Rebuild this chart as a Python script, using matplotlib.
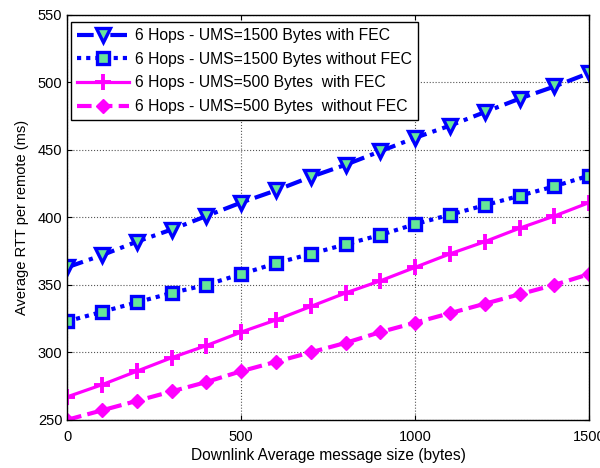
import numpy as np
import matplotlib
matplotlib.use('Agg')
import matplotlib.pyplot as plt

plt.rcParams['font.family'] = ['Liberation Sans', 'DejaVu Sans']

# data
msg_size = [0, 100, 200, 300, 400, 500, 600, 700, 800, 900, 1000, 1100, 1200, 1300, 1400, 1500]
ums1500_fec = [363, 372, 382, 391, 401, 411, 420, 430, 439, 449, 459, 468, 478, 488, 497, 507]
ums1500_nofec = [323, 330, 337, 344, 350, 358, 366, 373, 380, 387, 395, 402, 409, 416, 423, 431]
ums500_fec = [267, 276, 286, 296, 305, 315, 324, 334, 344, 353, 363, 373, 382, 392, 401, 411]
ums500_nofec = [250, 257, 264, 271, 278, 286, 293, 300, 307, 315, 322, 329, 336, 343, 350, 358]

labels = ['6 Hops - UMS=1500 Bytes with FEC',
          '6 Hops - UMS=1500 Bytes without FEC',
          '6 Hops - UMS=500 Bytes  with FEC',
          '6 Hops - UMS=500 Bytes  without FEC']

fig = plt.figure(figsize=(6, 4.68), dpi=100)
ax = fig.add_axes([0.112, 0.103, 0.870, 0.865])

blue = '#0000ff'
green = '#66e699'
ax.plot(msg_size, ums1500_fec, color=blue, ls=(0, (4, 1.5, 1, 1.5)), lw=3,
        marker='v', ms=10, mfc=green, mec=blue, mew=2.4, label=labels[0])
ax.plot(msg_size, ums1500_nofec, color=blue, ls=(0, (1, 1.2)), lw=3,
        marker='s', ms=8, mfc=green, mec=blue, mew=2.4, label=labels[1])
ax.plot(msg_size, ums500_fec, color='#ff00ff', ls='-', lw=2.3,
        marker='+', ms=12, mew=2.8, label=labels[2])
ax.plot(msg_size, ums500_nofec, color='#ff00ff', ls=(0, (3.5, 1.5)), lw=3,
        marker='D', ms=7, mfc='#ff00ff', mec='#ff00ff', label=labels[3])

ax.set_xlim(0, 1500)
ax.set_ylim(250, 550)
ax.set_xticks([0, 500, 1000, 1500])
ax.set_yticks(np.arange(250, 551, 50))
ax.grid(True, ls=':', color='#555555', lw=0.8)
ax.tick_params(direction='in', top=True, right=True, labelsize=10.5)
ax.tick_params(axis='x', pad=7)
for s in ax.spines.values():
    s.set_linewidth(1.0)

ax.set_xlabel('Downlink Average message size (bytes)', fontsize=11.2, labelpad=3)
ax.set_ylabel('Average RTT per remote (ms)', fontsize=10.5, labelpad=6)

leg = ax.legend(loc='upper left', bbox_to_anchor=(0.007, 0.983), fontsize=11.3,
                fancybox=False, edgecolor='black', framealpha=1,
                handlelength=3.3, borderpad=0.4, labelspacing=0.55,
                handletextpad=0.4, borderaxespad=0)
leg.get_frame().set_linewidth(1.0)

fig.savefig('out.png', dpi=100)
